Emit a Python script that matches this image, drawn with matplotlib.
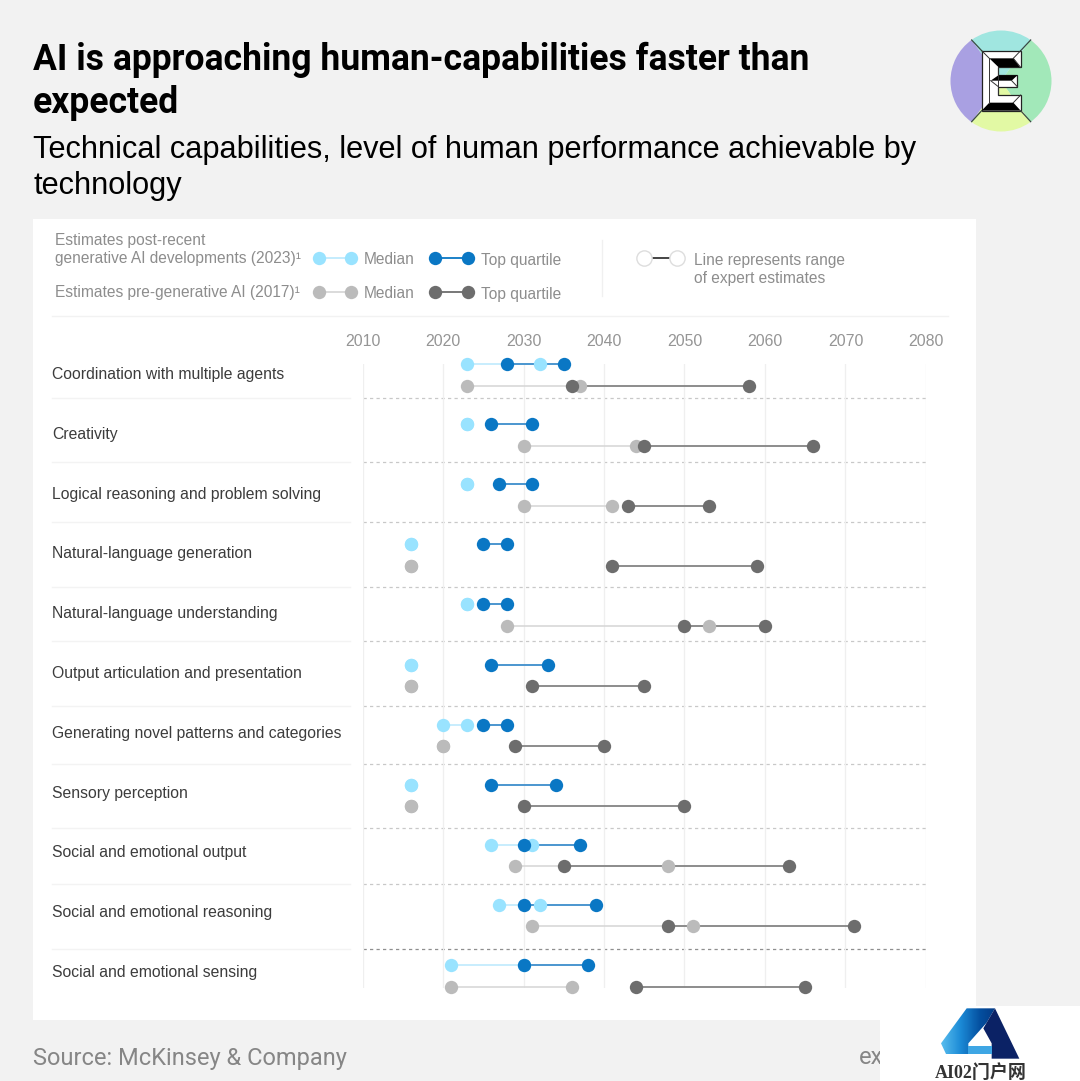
"""Recreate the AI capability timeline chart (expert estimates, 2017 vs 2023)."""

import matplotlib

matplotlib.use("Agg")

import matplotlib.patches as patches  # noqa: E402
import matplotlib.pyplot as plt  # noqa: E402
import numpy as np  # noqa: E402
from matplotlib.colors import LinearSegmentedColormap  # noqa: E402

WIDTH, HEIGHT = 1080, 1081

CAPABILITIES = [
    "Coordination with multiple agents",
    "Creativity",
    "Logical reasoning and problem solving",
    "Natural-language generation",
    "Natural-language understanding",
    "Output articulation and presentation",
    "Generating novel patterns and categories",
    "Sensory perception",
    "Social and emotional output",
    "Social and emotional reasoning",
    "Social and emotional sensing",
]
YEARS = [2010, 2020, 2030, 2040, 2050, 2060, 2070, 2080]

# (low, high) expert estimates per capability; equal values draw a single dot
MEDIAN_2023 = [(2023, 2032), (2023, 2023), (2023, 2023), (2016, 2016), (2023, 2023), (2016, 2016),
               (2020, 2023), (2016, 2016), (2026, 2031), (2027, 2032), (2021, 2030)]
TOP_2023 = [(2028, 2035), (2026, 2031), (2027, 2031), (2025, 2028), (2025, 2028), (2026, 2033),
            (2025, 2028), (2026, 2034), (2030, 2037), (2030, 2039), (2030, 2038)]
MEDIAN_2017 = [(2023, 2037), (2030, 2044), (2030, 2041), (2016, 2016), (2028, 2053), (2016, 2016),
               (2020, 2020), (2016, 2016), (2029, 2048), (2031, 2051), (2021, 2036)]
TOP_2017 = [(2036, 2058), (2045, 2066), (2043, 2053), (2041, 2059), (2050, 2060), (2031, 2045),
            (2029, 2040), (2030, 2050), (2035, 2063), (2048, 2071), (2044, 2065)]

LIGHT_BLUE = "#99e3ff"
LIGHT_BLUE_LINE = "#bfeafd"
BLUE = "#0a77c4"
BLUE_LINE = "#4b96cf"
LIGHT_GREY = "#bbbbbb"
LIGHT_GREY_LINE = "#d8d8d8"
DARK_GREY = "#6d6d6d"
DARK_GREY_LINE = "#8c8c8c"
LEGEND_TEXT = "#8d8d8d"
MARKER_PT = 9.6

# separators between rows are not evenly spaced in the original
SEPARATOR_Y = [398, 462, 522, 587, 641, 706, 764, 828, 884, 949]
ROW_PITCH = 60.1
LABEL_PITCH = 59.8
OLD_ROW_OFFSET = 0.358


def px_axes(fig, left, top, right, bottom):
    """Return an axes rectangle given in image pixels."""
    return fig.add_axes([left / WIDTH, 1 - bottom / HEIGHT, (right - left) / WIDTH, (bottom - top) / HEIGHT])


def draw_page(page):
    """Draw the page furniture: backgrounds, titles, legend and row labels."""
    page.set_xlim(0, WIDTH)
    page.set_ylim(HEIGHT, 0)
    page.axis("off")

    page.add_patch(patches.Rectangle((33, 219), 943, 801, facecolor="white", edgecolor="none"))

    page.text(33, 60, "AI is approaching human-capabilities faster than", family="Roboto",
              weight="bold", fontsize=25.6, color="black", va="center")
    page.text(33, 103, "expected", family="Roboto", weight="bold", fontsize=25.6, color="black", va="center")
    page.text(33, 150, "Technical capabilities, level of human performance achievable by",
              family="Liberation Sans", fontsize=22.15, color="black", va="center")
    page.text(33, 186, "technology", family="Liberation Sans", fontsize=22.15, color="black", va="center")

    legend_font = {"family": "Liberation Sans", "fontsize": 11.2, "color": LEGEND_TEXT, "va": "center"}
    page.text(55, 240, "Estimates post-recent", **legend_font)
    page.text(55, 259, "generative AI developments (2023)¹", **legend_font)
    page.text(55, 293, "Estimates pre-generative AI (2017)¹", **legend_font)

    pairs = [
        (319, 351, 258, LIGHT_BLUE, LIGHT_BLUE_LINE, "Median"),
        (435, 468, 258, BLUE, BLUE, "Top quartile"),
        (319, 351, 292, LIGHT_GREY, LIGHT_GREY_LINE, "Median"),
        (435, 468, 292, DARK_GREY, DARK_GREY, "Top quartile"),
    ]
    for x0, x1, y, dot, line, label in pairs:
        page.plot([x0, x1], [y, y], color=line, lw=1.3, zorder=2)
        page.plot([x0, x1], [y, y], ls="none", marker="o", ms=MARKER_PT, mew=0, color=dot, zorder=3)
        page.text(x1 + 13, y + 2, label, **legend_font)

    page.plot([644, 677], [258, 258], color="#444444", lw=1.4, zorder=2)
    page.plot([644, 677], [258, 258], ls="none", marker="o", ms=11, mfc="white", mec="#dddddd", mew=1, zorder=3)
    page.text(694, 260, "Line represents range", **legend_font)
    page.text(694, 278, "of expert estimates", **legend_font)

    page.plot([602, 602], [240, 296], color="#f0f0f0", lw=1)
    page.plot([52, 948], [316, 316], color="#f2f2f2", lw=1)

    for i, name in enumerate(CAPABILITIES):
        page.text(52, 374.5 + i * LABEL_PITCH, name, family="Liberation Sans", fontsize=11.35,
                  color="#3c3c3c", va="center")
    for y in SEPARATOR_Y:
        page.plot([52, 350], [y, y], color="#f3f3f3", lw=1)

    page.text(33, 1058, "Source: McKinsey & Company", family="Roboto", fontsize=17.05,
              color="#868686", va="center")
    page.text(859, 1058, "ex", family="Roboto", fontsize=17.05, color="#868686", va="center")


def draw_badge(page):
    """Draw the round E badge in the top right corner."""
    cx, cy, r = 1001, 81, 50.5
    sectors = [(-125.6, -54.4, "#a0e6e0"), (-54.4, 54.4, "#a2e8b9"), (54.4, 125.6, "#e2f9a4"), (125.6, 234.4, "#a9a0e2")]
    for start, end, color in sectors:
        page.add_patch(patches.Wedge((cx, cy), r, start, end, facecolor=color, edgecolor="none"))

    def badge_xy(points):
        return [(930 + x / 3, 20 + y / 3) for x, y in points]

    for a, b in [((125, 60), (155, 92)), ((302, 60), (272, 92)), ((125, 305), (155, 272)), ((302, 305), (272, 272))]:
        (x0, y0), (x1, y1) = badge_xy([a, b])
        page.plot([x0, x1], [y0, y1], color="#3a4a44", lw=0.9)

    outline = [(155, 92), (272, 92), (272, 142), (205, 142), (205, 165), (262, 165), (262, 200),
               (205, 200), (205, 225), (272, 225), (272, 272), (155, 272)]
    page.add_patch(patches.Polygon(badge_xy(outline), facecolor="white", edgecolor="#222222", lw=0.9))
    for shape in [
        [(178, 115), (250, 115), (270, 141), (205, 141)],
        [(182, 182), (205, 166), (262, 166), (245, 182)],
        [(155, 272), (178, 248), (250, 248), (272, 272)],
    ]:
        page.add_patch(patches.Polygon(badge_xy(shape), facecolor="black", edgecolor="none"))
    for a, b in [((155, 92), (178, 115)), ((272, 92), (250, 115)), ((178, 115), (178, 248)), ((250, 115), (272, 142)),
                 ((205, 142), (205, 225)), ((182, 182), (205, 200)), ((245, 182), (262, 200)), ((250, 248), (272, 225))]:
        (x0, y0), (x1, y1) = badge_xy([a, b])
        page.plot([x0, x1], [y0, y1], color="#333333", lw=0.7)


def draw_watermark(page):
    """Draw the white corner block with the small A logo."""
    page.add_patch(patches.Rectangle((880, 1020), 200, 61, facecolor="white", edgecolor="none", zorder=5))
    page.add_patch(patches.Rectangle((976, 1006), 104, 20, facecolor="white", edgecolor="none", zorder=5))

    def logo_xy(points):
        return [(840 + x / 3, 1000 + y / 3) for x, y in points]

    # blue face runs from light on the left to dark on the right
    blue_face = patches.Polygon(
        logo_xy([(380, 25), (465, 25), (440, 68), (385, 130), (385, 162), (318, 162), (303, 130)]),
        facecolor="none", edgecolor="none", zorder=6,
    )
    page.add_patch(blue_face)
    ramp = LinearSegmentedColormap.from_list("logo", ["#58bdee", "#1b8ad6", "#044f9f", "#03357f"])
    shade = page.imshow(np.linspace(0, 1, 64).reshape(1, -1), cmap=ramp, aspect="auto", zorder=6,
                        extent=(941, 1000, 1054, 1008))
    shade.set_clip_path(blue_face)
    page.set_xlim(0, WIDTH)
    page.set_ylim(HEIGHT, 0)

    faces = [
        ([(465, 25), (538, 176), (455, 176), (455, 130), (430, 85), (440, 68)], "#0b2265"),
        ([(385, 137), (455, 137), (455, 162), (385, 162)], "#3ea6e4"),
    ]
    for points, color in faces:
        page.add_patch(patches.Polygon(logo_xy(points), facecolor=color, edgecolor="none", zorder=7))
    page.text(980.5, 1073, "AI02门户网", family=["Liberation Serif", "Noto Sans CJK SC"], weight="bold",
              fontsize=13, color="#333333", ha="center", va="center", zorder=7)


def draw_range(ax, low_high, row, line_color, lw):
    if low_high[0] != low_high[1]:
        ax.plot(low_high, [row, row], color=line_color, lw=lw, solid_capstyle="butt", clip_on=False, zorder=3)


def draw_dots(ax, low_high, row, color, zorder):
    ax.plot(low_high, [row, row], ls="none", marker="o", ms=MARKER_PT, mew=0, color=color, clip_on=False, zorder=zorder)


def draw_chart(ax):
    """Draw the dumbbell rows on the year axis."""
    ax.set_xlim(YEARS[0], YEARS[-1])
    ax.set_ylim(624 / ROW_PITCH, 0)
    ax.patch.set_alpha(0)
    for spine in ax.spines.values():
        spine.set_visible(False)

    ax.xaxis.tick_top()
    ax.set_xticks(YEARS)
    ax.set_yticks([])
    ax.tick_params(axis="x", length=0, pad=11, labelsize=11.4, labelcolor="#959595")
    for label in ax.get_xticklabels():
        label.set_family("Liberation Sans")
    ax.grid(axis="x", color="#efefef", lw=0.9)
    ax.set_axisbelow(True)

    for i in range(len(CAPABILITIES)):
        new_row = i
        old_row = i + OLD_ROW_OFFSET
        draw_range(ax, MEDIAN_2023[i], new_row, LIGHT_BLUE_LINE, 1.2)
        draw_range(ax, TOP_2023[i], new_row, BLUE_LINE, 1.4)
        draw_range(ax, MEDIAN_2017[i], old_row, LIGHT_GREY_LINE, 1.2)
        draw_range(ax, TOP_2017[i], old_row, DARK_GREY_LINE, 1.4)
        draw_dots(ax, MEDIAN_2023[i], new_row, LIGHT_BLUE, 4)
        draw_dots(ax, TOP_2023[i], new_row, BLUE, 5)
        draw_dots(ax, MEDIAN_2017[i], old_row, LIGHT_GREY, 4)
        draw_dots(ax, TOP_2017[i], old_row, DARK_GREY, 5)


def main():
    fig = plt.figure(figsize=(WIDTH / 100, HEIGHT / 100), dpi=100, facecolor="#f2f2f2")

    page = px_axes(fig, 0, 0, WIDTH, HEIGHT)
    draw_page(page)
    draw_badge(page)
    draw_watermark(page)

    # dashed separators run across the plot, drawn in page pixels
    for y in SEPARATOR_Y:
        color = "#8f8f8f" if y == SEPARATOR_Y[-1] else "#c8c8c8"
        page.plot([362.5, 926], [y, y], color=color, lw=0.9, ls=(0, (2.6, 2.6)), zorder=3)

    ax = px_axes(fig, 362.5, 364, 926, 988)
    draw_chart(ax)

    fig.savefig("out.png", dpi=100, facecolor=fig.get_facecolor())
    plt.close(fig)


if __name__ == "__main__":
    main()
